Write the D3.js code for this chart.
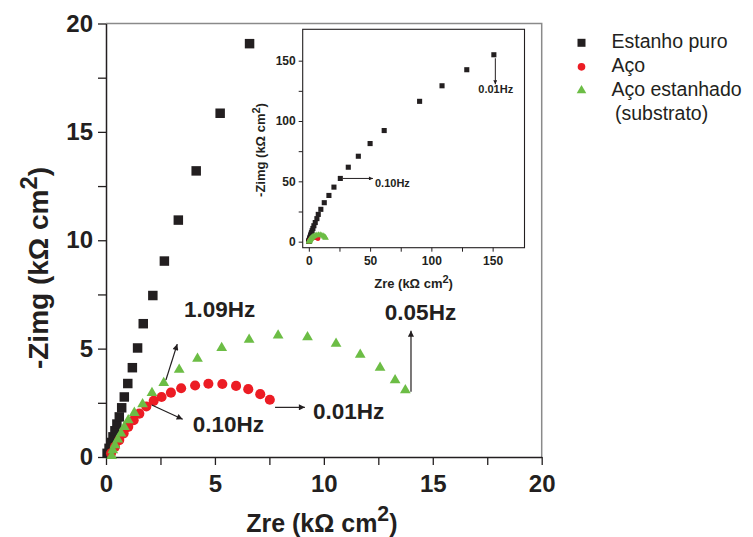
<!DOCTYPE html>
<html>
<head>
<meta charset="utf-8">
<script src="https://cdn.jsdelivr.net/npm/d3@7"></script>
<style>
  html, body { margin: 0; padding: 0; background: #fff; }
  svg { display: block; font-family: "Liberation Sans", Arial, Helvetica, sans-serif; }
</style>
</head>
<body>
<svg id="chart" width="753" height="537"></svg>
<script>
// Nyquist plots (Zre vs -Zimg, kΩ cm²)

// Estanho puro — high frequency at the origin, 0.01 Hz at the far end
const estanhoZre  = [0.05, 0.14, 0.23, 0.32, 0.41, 0.50, 0.61, 0.72, 0.84, 1.00, 1.21, 1.45, 1.71, 2.15, 2.68, 3.32, 4.14, 5.24, 6.59,
                     7.7, 9.8, 12.6, 16.4, 20.5, 25.7, 32.2, 40.4, 50.0, 61.5, 90.4, 108.7, 128.9, 151.0];
const estanhoZimg = [0.17, 0.40, 0.67, 0.93, 1.21, 1.52, 1.85, 2.27, 2.77, 3.39, 4.12, 5.03, 6.15, 7.45, 9.04, 10.93, 13.20, 15.86, 19.07,
                     22.6, 26.8, 32.3, 38.3, 45.2, 52.4, 61.7, 70.8, 81.3, 92.1, 116.3, 129.2, 142.5, 154.9];

// Aço
const acoZre  = [0.23, 0.41, 0.61, 0.81, 1.02, 1.27, 1.53, 1.85, 2.19, 2.55, 2.98, 3.45, 4.09, 4.70, 5.34, 5.97, 6.53, 7.08, 7.52];
const acoZimg = [0.17, 0.47, 0.78, 1.09, 1.39, 1.70, 2.00, 2.33, 2.59, 2.77, 2.97, 3.17, 3.30, 3.38, 3.37, 3.28, 3.13, 2.90, 2.64];

// Aço estanhado (substrato)
const estanhadoZre  = [0.26, 0.31, 0.41, 0.54, 0.69, 0.84, 1.02, 1.30, 1.68, 2.11, 2.65, 3.36, 4.20, 5.31, 6.57, 7.90, 9.25, 10.56, 11.67, 12.58, 13.27, 13.74];
const estanhadoZimg = [0.05, 0.32, 0.55, 0.81, 1.09, 1.39, 1.70, 2.04, 2.44, 2.96, 3.42, 4.03, 4.54, 5.03, 5.41, 5.61, 5.53, 5.23, 4.72, 4.12, 3.54, 3.08];

const seriesNames = ["Estanho puro", "Aço", "Aço estanhado", "(substrato)"];

// Axis ticks
const mainTicks = [0, 2.5, 5, 7.5, 10, 12.5, 15, 17.5, 20];
const mainTickLabels = [0, 5, 10, 15, 20];
const insetTicks = [0, 25, 50, 75, 100, 125, 150];
const insetTickLabels = [0, 50, 100, 150];

// Frequency annotations (data units: label anchor, arrow start, arrow end)
const mainNotes = [
  { label: "1.09Hz", tx: 3.58, ty: 6.47, x1: 2.75, y1: 3.55, x2: 3.27, y2: 5.21 },
  { label: "0.10Hz", tx: 3.98, ty: 1.17, x1: 2.10, y1: 2.40, x2: 3.52, y2: 1.74 },
  { label: "0.01Hz", tx: 9.50, ty: 1.74, x1: 7.76, y1: 2.29, x2: 9.13, y2: 2.29 },
  { label: "0.05Hz", tx: 12.8, ty: 6.32, x1: 14.0, y1: 3.01, x2: 14.0, y2: 5.83 }
];
const insetNotes = [
  { label: "0.10Hz", tx: 54.0, ty: 45.1, x1: 27.8, y1: 52.4, x2: 52.3, y2: 52.4 },
  { label: "0.01Hz", tx: 138.3, ty: 123.0, x1: 152.2, y1: 152.0, x2: 152.2, y2: 130.5 }
];

const zip = (xs, ys) => xs.map((v, i) => ({ x: v, y: ys[i] }));
const estanho = zip(estanhoZre, estanhoZimg);
const aco = zip(acoZre, acoZimg);
const estanhado = zip(estanhadoZre, estanhadoZimg);

const INK = "#231f20";
const C_SQ = "#231f20", C_RED = "#ec1c24", C_GREEN = "#6cbd45";

const svg = d3.select("#chart");

// arrowhead
svg.append("defs").append("marker")
  .attr("id", "arrow").attr("viewBox", "0 0 10 10")
  .attr("refX", 10).attr("refY", 5)
  .attr("markerWidth", 8).attr("markerHeight", 6)
  .attr("markerUnits", "userSpaceOnUse")
  .attr("orient", "auto")
  .append("path").attr("d", "M0,0 L10,5 L0,10 Z").attr("fill", INK);
svg.select("defs").append("marker")
  .attr("id", "arrowSmall").attr("viewBox", "0 0 10 10")
  .attr("refX", 10).attr("refY", 5)
  .attr("markerWidth", 6).attr("markerHeight", 4)
  .attr("markerUnits", "userSpaceOnUse")
  .attr("orient", "auto")
  .append("path").attr("d", "M0,0 L10,5 L0,10 Z").attr("fill", INK);

// ---------- main plot ----------
const x = d3.scaleLinear().domain([0, 20]).range([106, 541.7]);
const y = d3.scaleLinear().domain([0, 20]).range([457, 23.5]);

// frame (top and right)
svg.append("path")
  .attr("d", `M${x(0)},${y(20)} H${x(20)} V${y(0)}`)
  .attr("fill", "none").attr("stroke", "#8a8a8a").attr("stroke-width", 1.5);

const fmtMain = d => mainTickLabels.includes(d) ? d : "";

const gx = svg.append("g").attr("transform", `translate(0,${y(0)})`)
  .call(d3.axisBottom(x).tickValues(mainTicks).tickFormat(fmtMain)
    .tickSize(8).tickSizeOuter(0).tickPadding(10));
const gy = svg.append("g").attr("transform", `translate(${x(0)},0)`)
  .call(d3.axisLeft(y).tickValues(mainTicks).tickFormat(fmtMain)
    .tickSize(8).tickSizeOuter(0).tickPadding(5));
[gx, gy].forEach(g => {
  g.selectAll("path.domain").attr("stroke", INK).attr("stroke-width", 1.5);
  g.selectAll(".tick line").attr("stroke", INK).attr("stroke-width", 1.3);
  g.selectAll(".tick text").attr("fill", INK).attr("font-size", 24).attr("font-weight", "bold")
    .attr("font-family", "'Liberation Sans', Arial, sans-serif");
});

// axis titles
function titleWithSup(sel, main, sup, tail, supScale) {
  sel.append("tspan").text(main);
  sel.append("tspan").text(sup).attr("font-size", supScale + "em").attr("dy", "-0.48em");
  sel.append("tspan").text(tail).attr("dy", "0.41em");
}
svg.append("text")
  .attr("x", (x(0) + x(20)) / 2 - 2).attr("y", 531.5)
  .attr("text-anchor", "middle").attr("font-size", 25).attr("font-weight", "bold").attr("fill", INK)
  .call(titleWithSup, "Zre (kΩ cm", "2", ")", 0.85);
svg.append("text")
  .attr("transform", "translate(48,268) rotate(-90)")
  .attr("text-anchor", "middle").attr("font-size", 28).attr("font-weight", "bold").attr("fill", INK)
  .call(titleWithSup, "-Zimg (kΩ cm", "2", ")", 0.85);

const inMain = d => d.x <= 20 && d.y <= 20;
const gMain = svg.append("g");
gMain.selectAll("path.sq").data(estanho.filter(inMain)).join("path")
  .attr("class", "sq")
  .attr("d", d3.symbol(d3.symbolSquare, 90))
  .attr("transform", d => `translate(${x(d.x)},${y(d.y)})`)
  .attr("fill", C_SQ);
gMain.selectAll("path.ci").data(aco.filter(inMain)).join("path")
  .attr("class", "ci")
  .attr("d", d3.symbol(d3.symbolCircle, 80))
  .attr("transform", d => `translate(${x(d.x)},${y(d.y)})`)
  .attr("fill", C_RED);
gMain.selectAll("path.tr").data(estanhado.filter(inMain)).join("path")
  .attr("class", "tr")
  .attr("d", d3.symbol(d3.symbolTriangle, 50))
  .attr("transform", d => `translate(${x(d.x)},${y(d.y)})`)
  .attr("fill", C_GREEN);

// annotations
const gNotes = svg.append("g");
mainNotes.forEach(n => {
  gNotes.append("line")
    .attr("x1", x(n.x1)).attr("y1", y(n.y1)).attr("x2", x(n.x2)).attr("y2", y(n.y2))
    .attr("stroke", INK).attr("stroke-width", 1.2).attr("marker-end", "url(#arrow)");
  gNotes.append("text").attr("x", x(n.tx)).attr("y", y(n.ty))
    .attr("font-size", 22.5).attr("font-weight", "bold").attr("fill", INK).text(n.label);
});

// ---------- inset ----------
const xi = d3.scaleLinear().domain([-5, 176]).range([302.7, 524.5]);
const yi = d3.scaleLinear().domain([-5, 176]).range([247.7, 29.3]);

svg.append("rect")
  .attr("x", xi(-5)).attr("y", yi(176)).attr("width", xi(176) - xi(-5)).attr("height", yi(-5) - yi(176))
  .attr("fill", "#fff").attr("stroke", INK).attr("stroke-width", 1.1);

const fmtInset = d => insetTickLabels.includes(d) ? d : "";
const gxi = svg.append("g").attr("transform", `translate(0,${yi(-5)})`)
  .call(d3.axisBottom(xi).tickValues(insetTicks).tickFormat(fmtInset).tickSize(4).tickSizeOuter(0).tickPadding(5));
const gyi = svg.append("g").attr("transform", `translate(${xi(-5)},0)`)
  .call(d3.axisLeft(yi).tickValues(insetTicks).tickFormat(fmtInset).tickSize(4).tickSizeOuter(0).tickPadding(3));
[gxi, gyi].forEach(g => {
  g.selectAll("path.domain").remove();
  g.selectAll(".tick line").attr("stroke", INK).attr("stroke-width", 1);
  g.selectAll(".tick text").attr("fill", INK).attr("font-size", 12).attr("font-weight", "bold")
    .attr("font-family", "'Liberation Sans', Arial, sans-serif");
});

svg.append("text")
  .attr("x", (xi(-5) + xi(176)) / 2).attr("y", 288)
  .attr("text-anchor", "middle").attr("font-size", 13).attr("font-weight", "bold").attr("fill", INK)
  .call(titleWithSup, "Zre (kΩ cm", "2", ")", 0.85);
svg.append("text")
  .attr("transform", "translate(265,150) rotate(-90)")
  .attr("text-anchor", "middle").attr("font-size", 13).attr("font-weight", "bold").attr("fill", INK)
  .call(titleWithSup, "-Zimg (kΩ cm", "2", ")", 0.85);

const gIn = svg.append("g");
gIn.selectAll("path.sq").data(estanho).join("path")
  .attr("d", d3.symbol(d3.symbolSquare, 26))
  .attr("transform", d => `translate(${xi(d.x)},${yi(d.y)})`)
  .attr("fill", C_SQ);
gIn.selectAll("path.ci").data(aco).join("path")
  .attr("class", "ci")
  .attr("d", d3.symbol(d3.symbolCircle, 18))
  .attr("transform", d => `translate(${xi(d.x)},${yi(d.y)})`)
  .attr("fill", C_RED);
gIn.selectAll("path.tr").data(estanhado).join("path")
  .attr("class", "tr")
  .attr("d", d3.symbol(d3.symbolTriangle, 18))
  .attr("transform", d => `translate(${xi(d.x)},${yi(d.y)})`)
  .attr("fill", C_GREEN);

insetNotes.forEach(n => {
  gIn.append("line")
    .attr("x1", xi(n.x1)).attr("y1", yi(n.y1)).attr("x2", xi(n.x2)).attr("y2", yi(n.y2))
    .attr("stroke", INK).attr("stroke-width", 1).attr("marker-end", "url(#arrowSmall)");
  gIn.append("text").attr("x", xi(n.tx)).attr("y", yi(n.ty))
    .attr("font-size", 11).attr("font-weight", "bold").attr("fill", INK).text(n.label);
});

// ---------- legend ----------
const legend = svg.append("g").attr("transform", "translate(581,0)");
const legendRows = [
  { name: seriesNames[0], sym: d3.symbolSquare, size: 64, color: C_SQ, y: 48.3 },
  { name: seriesNames[1], sym: d3.symbolCircle, size: 46, color: C_RED, y: 72.3 },
  { name: seriesNames[2], sym: d3.symbolTriangle, size: 40, color: C_GREEN, y: 96 }
];
legendRows.forEach(r => {
  legend.append("path").attr("d", d3.symbol(r.sym, r.size))
    .attr("transform", `translate(0.5,${r.y - 5.5})`).attr("fill", r.color);
  legend.append("text").attr("x", 30.5).attr("y", r.y)
    .attr("font-size", 19.5).attr("fill", INK).text(r.name);
});
legend.append("text").attr("x", 34).attr("y", 119.5)
  .attr("font-size", 19.5).attr("fill", INK).text(seriesNames[3]);
</script>
</body>
</html>
